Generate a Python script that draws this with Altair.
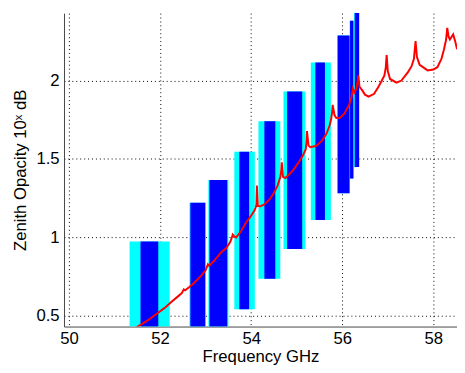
import altair as alt
import pandas as pd

# Channel passbands (GHz) and opacity ranges
cyan_lo = [51.33, 52.645, 53.06, 53.63, 54.16, 54.71, 55.31, 55.89, 56.163, 56.258]
cyan_hi = [52.21, 53.005, 53.50, 54.08, 54.64, 55.19, 55.75, 56.165, 56.258, 56.375]
blue_lo = [51.57, 52.665, 53.085, 53.74, 54.29, 54.79, 55.41, 55.90, 56.172, 56.275]
blue_hi = [51.96, 52.99, 53.475, 53.955, 54.53, 55.12, 55.62, 56.16, 56.242, 56.37]
ch_top = [0.974, 1.221, 1.365, 1.546, 1.741, 1.930, 2.115, 2.288, 2.382, 2.434]
ch_bottom = [0.43, 0.43, 0.43, 0.542, 0.736, 0.926, 1.110, 1.281, 1.375, 1.448]

# Model opacity curve
freq = [51.45, 51.7, 51.905, 52.1, 52.265, 52.4, 52.48, 52.52, 52.55, 52.65,
        52.75, 52.913, 53.0, 53.02, 53.05, 53.08, 53.2, 53.344, 53.45, 53.53,
        53.56, 53.596, 53.63, 53.668, 53.78, 53.884, 53.98, 54.07, 54.1, 54.115,
        54.125, 54.145, 54.2, 54.28, 54.4, 54.494, 54.58, 54.64, 54.66, 54.672,
        54.70, 54.75, 54.854, 54.95, 55.07, 55.15, 55.2, 55.215, 55.225, 55.26,
        55.3, 55.43, 55.55, 55.646, 55.72, 55.754, 55.775, 55.789, 55.83, 55.87,
        55.95, 56.05, 56.149, 56.2, 56.235, 56.27, 56.31, 56.335, 56.35, 56.38,
        56.436, 56.5, 56.58, 56.7, 56.796, 56.87, 56.926, 56.955, 56.975, 57.0,
        57.05, 57.19, 57.3, 57.443, 57.52, 57.573, 57.61, 57.64, 57.7, 57.875,
        58.0, 58.09, 58.18, 58.235, 58.28, 58.306, 58.335, 58.364, 58.436, 58.48,
        58.522]
opacity = [0.42, 0.465, 0.508, 0.55, 0.592, 0.625, 0.645, 0.668, 0.662, 0.685,
           0.71, 0.759, 0.79, 0.805, 0.828, 0.818, 0.855, 0.905, 0.93, 0.965,
           0.985, 1.018, 1.005, 0.999, 1.04, 1.093, 1.13, 1.17, 1.19, 1.21,
           1.33, 1.20, 1.198, 1.208, 1.24, 1.281, 1.33, 1.385, 1.42, 1.479,
           1.385, 1.378, 1.407, 1.44, 1.49, 1.53, 1.563, 1.61, 1.678, 1.585,
           1.575, 1.584, 1.615, 1.657, 1.71, 1.751, 1.79, 1.845, 1.78, 1.761,
           1.762, 1.79, 1.845, 1.89, 1.949, 1.925, 1.95, 1.99, 2.033, 1.96,
           1.939, 1.91, 1.897, 1.915, 1.96, 2.0, 2.033, 2.08, 2.162, 2.06,
           2.01, 1.987, 2.0, 2.054, 2.09, 2.137, 2.252, 2.15, 2.1, 2.065,
           2.07, 2.085, 2.14, 2.2, 2.26, 2.336, 2.28, 2.262, 2.294, 2.25,
           2.2]

x_ticks = [50, 52, 54, 56, 58]
y_ticks = [0.5, 1, 1.5, 2]

chan = pd.DataFrame({"clo": cyan_lo, "chi": cyan_hi, "blo": blue_lo, "bhi": blue_hi,
                     "top": ch_top, "bot": ch_bottom})
curve = pd.DataFrame({"f": freq, "o": opacity})

FONT = "Liberation Sans"
xscale = alt.Scale(domain=[49.89, 58.52], nice=False, zero=False)
yscale = alt.Scale(domain=[0.431, 2.43], nice=False, zero=False)

xaxis = alt.Axis(values=x_ticks, format="d", title="Frequency GHz",
                 labelPadding=4, titlePadding=3)
yaxis = alt.Axis(values=y_ticks, format="~g", title="Zenith Opacity 10ˣ dB",
                 labelPadding=5, titlePadding=7)

cyan = alt.Chart(chan).mark_rect(color="#00FFFF", clip=True).encode(
    x=alt.X("clo:Q", scale=xscale, axis=xaxis),
    x2="chi:Q",
    y=alt.Y("bot:Q", scale=yscale, axis=yaxis),
    y2="top:Q",
)
blue = alt.Chart(chan).mark_rect(color="#0000FF", clip=True).encode(
    x=alt.X("blo:Q", scale=xscale, axis=xaxis),
    x2="bhi:Q",
    y=alt.Y("bot:Q", scale=yscale, axis=yaxis),
    y2="top:Q",
)
line = alt.Chart(curve).mark_line(color="#FF0000", strokeWidth=2, clip=True).encode(
    x=alt.X("f:Q", scale=xscale, axis=xaxis),
    y=alt.Y("o:Q", scale=yscale, axis=yaxis),
)

chart = alt.layer(cyan, blue, line).properties(
    width=400, height=319,
    autosize=alt.AutoSizeParams(type="none"),
    padding={"left": 57, "top": 2, "right": 0, "bottom": 40},
).configure_view(stroke=None).configure_axis(
    labelFont=FONT, titleFont=FONT, labelFontSize=17, titleFontSize=17,
    labelColor="#000000", titleColor="#000000", titleFontWeight="normal",
    grid=True, gridDash=[1, 3], gridColor="#000000", gridOpacity=1, gridWidth=1,
    ticks=False, domainColor="#444444",
)

chart.save("out.html", embed_options={"renderer": "svg", "actions": False})
